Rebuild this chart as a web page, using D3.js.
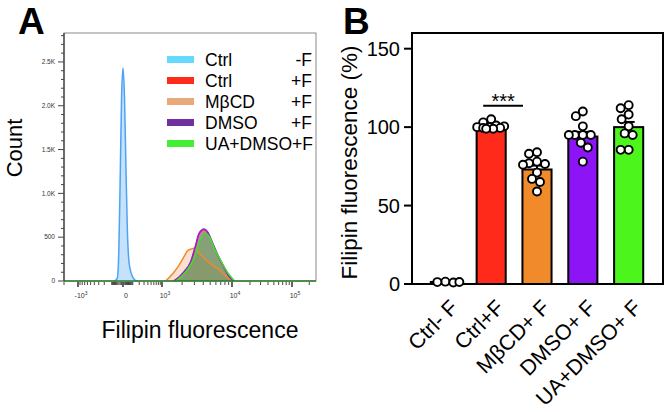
<!DOCTYPE html>
<html>
<head>
<meta charset="utf-8">
<script src="https://cdn.jsdelivr.net/npm/d3@7"></script>
<style>
  html, body { margin: 0; padding: 0; background: #fff; }
  svg { display: block; font-family: "Liberation Sans", Arial, sans-serif; }
</style>
</head>
<body>
<svg id="chart" width="666" height="412"></svg>
<script>
// ---- panel A data: flow histograms (fluorescence value, count) ----
const ctrlNoF = [[-70, 0], [-45, 30], [-32, 300], [-20, 1200], [-10, 2100], [0, 2430], [12, 2100], [25, 1300], [38, 600], [55, 220], [80, 90], [105, 35], [135, 8], [170, 0]];
const ctrlF = [[1500, 0], [2100, 90], [2650, 210], [3130, 400], [3490, 535], [4110, 585], [4580, 555], [5400, 430], [6370, 295], [7510, 180], [8850, 70], [10440, 0]];
const mbcdF = [[1140, 0], [1535, 106], [1807, 182], [2132, 277], [2376, 342], [2711, 365], [2960, 373], [3490, 319], [4350, 239], [5350, 182], [6740, 125], [8400, 49], [9900, 0]];
const dmsoF = [[1535, 0], [2132, 106], [2655, 220], [3135, 410], [3490, 544], [4110, 593], [4580, 562], [5400, 433], [6370, 296], [7510, 182], [8850, 68], [10440, 0]];
const uaDmsoF = [[1622, 0], [2376, 125], [2960, 259], [3490, 430], [4110, 544], [4850, 505], [5710, 373], [7130, 220], [8850, 88], [11040, 0]];

const legendNames = ["Ctrl", "Ctrl", "M\u03b2CD", "DMSO", "UA+DMSO+F"];
const legendSuffix = ["-F", "+F", "+F", "+F", ""];

const countTicks = [0, 500, 1000, 1500, 2000, 2500];
const countTickLabels = ["0", "500", "1.0K", "1.5K", "2.0K", "2.5K"];
const fluoMajor = [-1000, 0, 1000, 10000, 100000];
const fluoMajorLabels = [["-10", "3"], ["0", ""], ["10", "3"], ["10", "4"], ["10", "5"]];

// ---- panel B data ----
const groups = ["Ctrl- F", "Ctrl+F", "M\u03b2CD+ F", "DMSO+ F", "UA+DMSO+ F"];
const means = [1.3, 100, 73, 94, 100];
const sems = [0.2, 0.6, 2.5, 3.0, 3.3];
const points = [
  [1.5, 1.2, 1.0, 1.3],
  [105, 103, 101, 100.5, 100, 100, 99.5, 99.5, 99, 99],
  [84, 83, 78, 77, 76.5, 76, 71, 67, 65, 59],
  [110, 107, 100.5, 95, 95, 95, 95, 90, 87, 78],
  [114, 112, 108, 105, 100.5, 96, 95, 85.5, 85.5]
];
const pctTicks = [0, 50, 100, 150];

const svg = d3.select("#chart");

// ================= PANEL A =================
const aLeft = 64, aRight = 316, aTop = 33, aBottom = 281;

// biexponential-like axis: symlog, pinned on the decade ticks
const xA = d3.scaleSymlog().constant(150)
  .domain([-2000, -1000, 0, 1000, 10000, 100000, 262144])
  .range([aLeft, 78, 123, 162, 232, 292, aRight]);
const yA = d3.scaleLinear().domain([0, 2830]).range([aBottom, aTop]);

svg.append("text").attr("x", 18).attr("y", 34)
  .attr("font-size", 37).attr("font-weight", "bold").text("A");

// frame
svg.append("rect").attr("x", aLeft).attr("y", aTop)
  .attr("width", aRight - aLeft).attr("height", aBottom - aTop)
  .attr("fill", "none").attr("stroke", "#8a8a8a").attr("stroke-width", 1);

const area = d3.area().x(d => xA(d[0])).y0(yA(0)).y1(d => yA(d[1])).curve(d3.curveMonotoneX);
const line = d3.line().x(d => xA(d[0])).y(d => yA(d[1])).curve(d3.curveMonotoneX);

const hist = [
  { data: ctrlNoF, stroke: "#4da3f5", fill: "#c6e2fa", op: 1 },
  { data: mbcdF, stroke: "#f08a30", fill: "#f0a060", op: 0.3 },
  { data: ctrlF, stroke: "#ff3030", fill: "#ff2828", op: 0.35 },
  { data: dmsoF, stroke: "#8a2ad0", fill: "#8228be", op: 0.4 },
  { data: uaDmsoF, stroke: "#3ee030", fill: "#3cc832", op: 0.48 }
];
hist.forEach(h => {
  svg.append("path").datum(h.data).attr("d", area)
    .attr("fill", h.fill).attr("fill-opacity", h.op);
});
[hist[0], hist[2], hist[1], hist[3], hist[4]].forEach(h => {
  svg.append("path").datum(h.data).attr("d", line)
    .attr("fill", "none").attr("stroke", h.stroke).attr("stroke-width", 1.5);
});

// baseline (green) and axes
svg.append("line").attr("x1", aLeft).attr("x2", aRight)
  .attr("y1", yA(0)).attr("y2", yA(0)).attr("stroke", "#2a7a2a").attr("stroke-width", 1.6);
svg.append("line").attr("x1", aLeft).attr("x2", aLeft)
  .attr("y1", aTop).attr("y2", aBottom).attr("stroke", "#333").attr("stroke-width", 1.2);

// y ticks
const yMinor = d3.range(0, 2801, 100);
svg.selectAll(".yminA").data(yMinor).join("line")
  .attr("x1", aLeft).attr("x2", d => aLeft - (d % 500 === 0 ? 6 : 3))
  .attr("y1", d => yA(d)).attr("y2", d => yA(d))
  .attr("stroke", "#444").attr("stroke-width", 1);
svg.selectAll(".ylabA").data(countTicks).join("text")
  .attr("x", aLeft - 9).attr("y", d => yA(d)).attr("dy", "0.35em")
  .attr("text-anchor", "end").attr("font-size", 6.5).attr("fill", "#333")
  .text((d, i) => countTickLabels[i]);

// x ticks
const xMinor = [];
[10, 100].forEach(dec => {
  for (let k = 1; k <= 9; k++) { xMinor.push(k * dec); xMinor.push(-k * dec); }
});
[1000, 10000].forEach(dec => {
  for (let k = 2; k <= 9; k++) xMinor.push(k * dec);
});
xMinor.push(-2000, 200000);
svg.selectAll(".xminA").data(xMinor).join("line")
  .attr("x1", d => xA(d)).attr("x2", d => xA(d))
  .attr("y1", aBottom + 1).attr("y2", aBottom + 4)
  .attr("stroke", "#333").attr("stroke-width", 0.9);
svg.selectAll(".xmajA").data(fluoMajor).join("line")
  .attr("x1", d => xA(d)).attr("x2", d => xA(d))
  .attr("y1", aBottom + 1).attr("y2", aBottom + 6)
  .attr("stroke", "#222").attr("stroke-width", 1.4);
const xl = svg.selectAll(".xlabA").data(fluoMajor).join("text")
  .attr("x", d => xA(d) + 3).attr("y", aBottom + 17)
  .attr("text-anchor", "middle").attr("font-size", 7).attr("fill", "#333");
xl.append("tspan").text((d, i) => fluoMajorLabels[i][0]);
xl.append("tspan").attr("dy", -3).attr("font-size", 5).text((d, i) => fluoMajorLabels[i][1]);

svg.append("text").attr("x", (aLeft + aRight) / 2 + 10).attr("y", 338)
  .attr("text-anchor", "middle").attr("font-size", 23).text("Filipin fluorescence");
svg.append("text").attr("transform", "translate(22,148) rotate(-90)")
  .attr("text-anchor", "middle").attr("font-size", 22).text("Count");

// legend
const legendColors = ["#66d9ff", "#ff2a1a", "#e8a878", "#7030a0", "#44ee33"];
const lg = svg.selectAll(".lg").data(legendNames).join("g")
  .attr("transform", (d, i) => `translate(0,${66 + i * 21})`);
lg.append("rect").attr("x", 167).attr("y", -10).attr("width", 27).attr("height", 7)
  .attr("fill", (d, i) => legendColors[i]);
lg.append("text").attr("x", 205).attr("font-size", 17.5).text(d => d);
lg.append("text").attr("x", 312).attr("text-anchor", "end").attr("font-size", 17.5)
  .text((d, i) => legendSuffix[i]);

// ================= PANEL B =================
const bLeft = 412, bRight = 663, bTop = 33, bBottom = 284;
const xB = d3.scaleBand().domain(groups).range([bLeft, 662])
  .paddingInner(0.365).paddingOuter(0.41);
const yB = d3.scaleLinear().domain([0, 160]).range([bBottom, bTop]);
const barColors = ["#ffffff", "#ff2a1a", "#f08a2a", "#8c14f5", "#4cf51c"];

svg.append("text").attr("x", 343).attr("y", 34)
  .attr("font-size", 37).attr("font-weight", "bold").text("B");

svg.append("rect").attr("x", bLeft).attr("y", bTop)
  .attr("width", bRight - bLeft).attr("height", bBottom - bTop)
  .attr("fill", "none").attr("stroke", "#000").attr("stroke-width", 2);

svg.selectAll(".bar").data(groups).join("rect")
  .attr("x", d => xB(d)).attr("width", xB.bandwidth())
  .attr("y", (d, i) => yB(means[i])).attr("height", (d, i) => yB(0) - yB(means[i]))
  .attr("fill", (d, i) => barColors[i]).attr("stroke", "#000").attr("stroke-width", 2);

// error bars (upward)
groups.forEach((g, i) => {
  const cx = xB(g) + xB.bandwidth() / 2;
  svg.append("line").attr("x1", cx).attr("x2", cx)
    .attr("y1", yB(means[i])).attr("y2", yB(means[i] + sems[i]))
    .attr("stroke", "#000").attr("stroke-width", 2);
  svg.append("line").attr("x1", cx - 6).attr("x2", cx + 6)
    .attr("y1", yB(means[i] + sems[i])).attr("y2", yB(means[i] + sems[i]))
    .attr("stroke", "#000").attr("stroke-width", 2);
});

// scatter dots, spread sideways like a beeswarm
const r = 4;
groups.forEach((g, i) => {
  const cx = xB(g) + xB.bandwidth() / 2;
  const maxOff = xB.bandwidth() / 2;
  const placed = [];
  points[i].forEach(v => {
    const y = yB(v);
    let best = null, bestScore = -1;
    for (let step = 0; step <= maxOff * 2; step++) {
      const off = (step % 2 === 0 ? 1 : -1) * Math.ceil(step / 2);
      if (Math.abs(off) > maxOff) continue;
      const minD = placed.length ? d3.min(placed, p => Math.hypot(p[0] - (cx + off), p[1] - y)) : Infinity;
      if (minD >= 8) { best = off; break; }
      if (minD > bestScore) { bestScore = minD; best = off; }
    }
    placed.push([cx + best, y]);
  });
  svg.selectAll(".dot" + i).data(placed).join("circle")
    .attr("cx", d => d[0]).attr("cy", d => d[1]).attr("r", r)
    .attr("fill", "#fff").attr("stroke", "#000").attr("stroke-width", 1.9);
});

// significance
const x1s = xB(groups[1]) + xB.bandwidth() / 2 - 8, x2s = xB(groups[2]) + xB.bandwidth() / 2 - 14;
svg.append("line").attr("x1", x1s).attr("x2", x2s)
  .attr("y1", yB(113.7)).attr("y2", yB(113.7)).attr("stroke", "#000").attr("stroke-width", 2);
svg.append("text").attr("x", (x1s + x2s) / 2).attr("y", yB(113.7) + 2)
  .attr("text-anchor", "middle").attr("font-size", 20).text("***");

// y axis
svg.selectAll(".ytB").data(pctTicks).join("line")
  .attr("x1", bLeft - 8).attr("x2", bLeft)
  .attr("y1", d => yB(d)).attr("y2", d => yB(d))
  .attr("stroke", "#000").attr("stroke-width", 2);
svg.selectAll(".ylB").data(pctTicks).join("text")
  .attr("x", bLeft - 12).attr("y", d => yB(d)).attr("dy", "0.36em")
  .attr("text-anchor", "end").attr("font-size", 20).text(d => d);
svg.append("text").attr("transform", `translate(357,${(bTop + bBottom) / 2 + 4}) rotate(-90)`)
  .attr("text-anchor", "middle").attr("font-size", 22.5).text("Filipin fluorescence (%)");

// x labels rotated
svg.selectAll(".xlB").data(groups).join("text")
  .attr("transform", d => `translate(${xB(d) + xB.bandwidth() / 2 + 14},${bBottom + 25}) rotate(-45)`)
  .attr("text-anchor", "end").attr("font-size", 21.5).text(d => d);
</script>
</body>
</html>
